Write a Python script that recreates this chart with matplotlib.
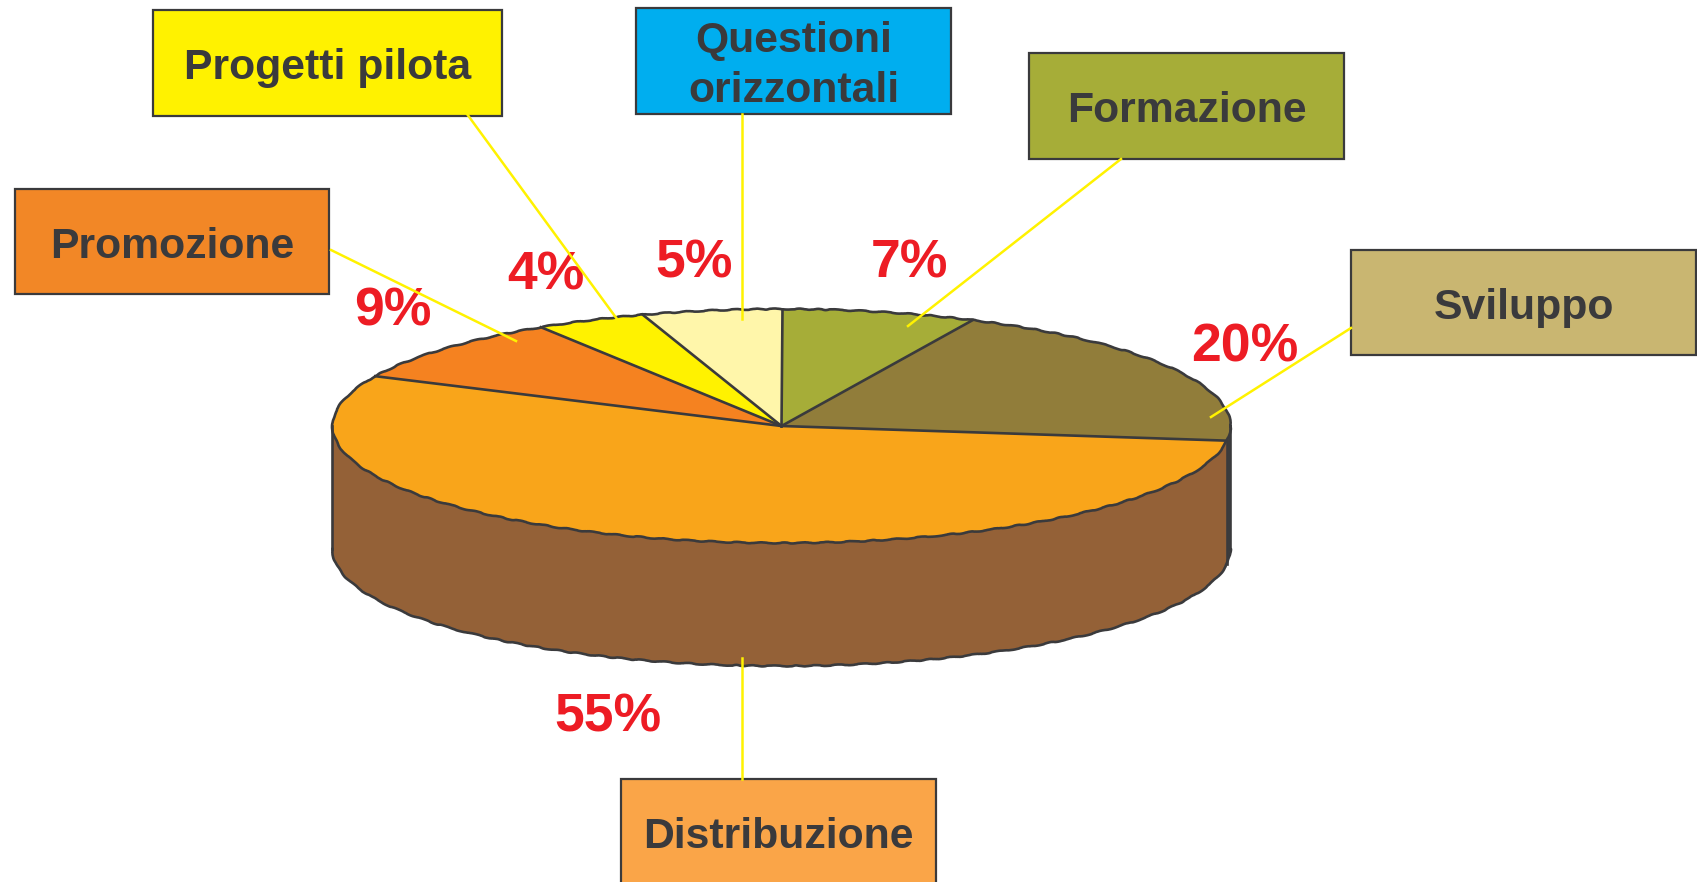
import matplotlib
matplotlib.use("Agg")
import matplotlib.pyplot as plt
from matplotlib.patches import Rectangle
import numpy as np

labels = ["Formazione", "Sviluppo", "Distribuzione", "Promozione", "Progetti pilota", "Questioni\norizzontali"]
shares = [7, 20, 55, 9, 4, 5]
share_text = ["7%", "20%", "55%", "9%", "4%", "5%"]
top_colors = ["#A6AD38", "#917D3A", "#F9A51A", "#F58220", "#FFF200", "#FFF6AA"]
side_colors = ["#6B7028", "#45453C", "#946137", "#9E5415", "#A69D00", "#A69F6E"]
box_colors = ["#A6AD38", "#C9B671", "#FAA548", "#F28726", "#FFF200", "#00AEEF"]

# pixel layout of the picture
W, H = 1697, 882
cx, cy, rx, ry, depth = 781.5, 426, 449, 117, 123
boxes = [(1029, 53, 315, 106), (1351, 250, 345, 105), (621, 779, 315, 106),
         (15, 189, 314, 105), (153, 10, 349, 106), (636, 8, 315, 106)]
leaders = [((1121, 159), (908, 326)), ((1351, 328), (1211, 417)), ((742, 779), (742, 658)),
           ((331, 250), (516, 341)), ((467, 114), (617, 319)), ((742, 114), (742, 319))]
share_pos = [(909, 264), (1245, 347), (608, 717), (393, 311), (546, 275), (694, 264)]

DARK = "#3A3A3C"
RED = "#ED1C24"
YELLOW = "#FFF200"
FONT = "Liberation Sans"
LW = 1.9

fig = plt.figure(figsize=(W / 100, H / 100), dpi=100)

# pie axes: unit circle squashed into an ellipse by the limits
ax = fig.add_axes([0, 0, 1, 1])
wedges, _ = ax.pie(shares, colors=top_colors, startangle=90, counterclock=False,
                   wedgeprops=dict(linewidth=0))
ax.set_aspect("auto")
ax.set_xlim(-cx / rx, (W - cx) / rx)
ax.set_ylim((cy - H) / ry, cy / ry)
ax.axis("off")
dz = depth / ry

# side of the disc, one piece per slice that faces the viewer
for wedge, color in zip(wedges, side_colors):
    a = max(wedge.theta1, -180)
    b = min(wedge.theta2, 0)
    if a >= b:
        continue
    t = np.radians(np.linspace(a, b, 200))
    xs = np.r_[np.cos(t), np.cos(t)[::-1]]
    ys = np.r_[np.sin(t), np.sin(t)[::-1] - dz]
    ax.fill(xs, ys, facecolor=color, edgecolor="none", zorder=0.5)

# rough outlines, the source polygon is a bit jagged
t = np.radians(np.linspace(0, 360, 720))
rim, = ax.plot(np.cos(t), np.sin(t), color=DARK, lw=LW, zorder=3)
rim.set_sketch_params(scale=0.55, length=28, randomness=3)
t = np.radians(np.linspace(-180, 0, 360))
low, = ax.plot(np.cos(t), np.sin(t) - dz, color=DARK, lw=LW, zorder=3)
low.set_sketch_params(scale=0.55, length=28, randomness=3)
for side in (-1, 1):
    ax.plot([side, side], [0, -dz], color=DARK, lw=LW, zorder=3)

# spokes between the slices and the front edge of the big slice
for wedge in wedges:
    ang = np.radians(wedge.theta1)
    ax.plot([0, np.cos(ang)], [0, np.sin(ang)], color=DARK, lw=LW, zorder=3.5)
ang = np.radians(wedges[1].theta1)
ax.plot([np.cos(ang)] * 2, [np.sin(ang), np.sin(ang) - dz], color=DARK, lw=LW, zorder=3.5)

# overlay in pixel coordinates for the boxes and labels
over = fig.add_axes([0, 0, 1, 1])
over.set_xlim(0, W)
over.set_ylim(H, 0)
over.axis("off")
over.patch.set_alpha(0)

for name, pct, box, col, line, pos in zip(labels, share_text, boxes, box_colors, leaders, share_pos):
    x, y, w, h = box
    over.add_patch(Rectangle((x, y), w, h, facecolor=col, edgecolor=DARK, lw=1.6, clip_on=False))
    over.text(x + w / 2, y + h / 2 + 5, name, ha="center", va="center", color=DARK,
              fontsize=30.8, fontweight="bold", family=FONT, linespacing=1.32)
    over.plot([line[0][0], line[1][0]], [line[0][1], line[1][1]], color=YELLOW, lw=1.8, zorder=5)
    over.text(pos[0], pos[1], pct, ha="center", va="center", color=RED,
              fontsize=38.5, fontweight="bold", family=FONT)

fig.savefig("out.png", dpi=100, facecolor="white")
